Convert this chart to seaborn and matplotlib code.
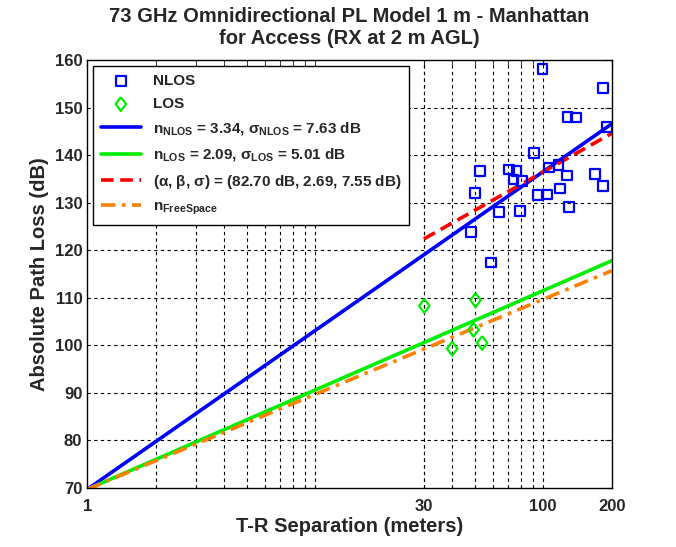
import numpy as np
import pandas as pd
import seaborn as sns
import matplotlib.pyplot as plt
from matplotlib.ticker import FixedLocator, NullFormatter

# measured points (distance in m, path loss in dB)
nlos_d = [99.5, 182.8, 128, 139, 190, 91, 52.7, 70.7, 76.4, 105.9, 116.7, 74.1, 80.6,
          127, 168.6, 182.8, 118.4, 50.3, 94.8, 103.8, 129.6, 63.9, 79.0, 48.2, 59.0]
nlos_pl = [158.2, 154.2, 148.1, 147.9, 146.0, 140.5, 136.7, 137.0, 136.7, 137.4, 138.0,
           134.9, 134.6, 135.7, 136.1, 133.5, 133.0, 132.1, 131.6, 131.7, 129.1, 128.0,
           128.3, 123.9, 117.4]
los_d = [30.1, 50.5, 49.5, 39.9, 54.0]
los_pl = [108.3, 109.5, 103.3, 99.3, 100.5]

# fitted model lines (end points on the log axis)
fit_d = [1, 200]
nlos_fit = [69.7, 146.6]
los_fit = [69.7, 117.8]
free_fit = [69.7, 115.7]
ab_d = [30, 200]
ab_fit = [122.4, 144.6]

yticks = [70, 80, 90, 100, 110, 120, 130, 140, 150, 160]
xticks = [1, 30, 100, 200]
xgrid = [2, 3, 4, 5, 6, 7, 8, 9, 10, 30, 40, 50, 60, 70, 80, 90, 100]

sns.set_style("white")
plt.rcParams['font.family'] = ['Liberation Sans', 'DejaVu Sans']
plt.rcParams['font.weight'] = 'bold'
plt.rcParams['mathtext.fontset'] = 'custom'
plt.rcParams['mathtext.rm'] = 'Liberation Sans:bold'
plt.rcParams['mathtext.it'] = 'Liberation Sans:bold'
plt.rcParams['mathtext.bf'] = 'Liberation Sans:bold'

fig = plt.figure(figsize=(6.76, 5.47), dpi=100)
ax = fig.add_axes([0.129, 0.108, 0.776, 0.782])

# wide diamond like the original marker
diamond = [(0, 1), (0.75, 0), (0, -1), (-0.75, 0), (0, 1)]

sns.scatterplot(x=nlos_d, y=nlos_pl, marker='s', s=48, facecolor='none',
                edgecolor='#0000FF', linewidth=1.6, label='NLOS', ax=ax, zorder=4)
sns.scatterplot(x=los_d, y=los_pl, marker=diamond, s=100, facecolor='none',
                edgecolor='#00EE00', linewidth=1.6, label='LOS', ax=ax, zorder=4)

sns.lineplot(x=fit_d, y=nlos_fit, color='#0000FF', lw=2.6,
             label=r'n$_{\rm NLOS}$ = 3.34, $\sigma_{\rm NLOS}$ = 7.63 dB', ax=ax)
sns.lineplot(x=fit_d, y=los_fit, color='#00EE00', lw=2.6,
             label=r'n$_{\rm LOS}$ = 2.09, $\sigma_{\rm LOS}$ = 5.01 dB', ax=ax)
sns.lineplot(x=ab_d, y=ab_fit, color='#FF0000', lw=2.6, linestyle=(0, (3.5, 1.8)),
             label=r'($\alpha$, $\beta$, $\sigma$) = (82.70 dB, 2.69, 7.55 dB)', ax=ax)
sns.lineplot(x=fit_d, y=free_fit, color='#FF8000', lw=2.6, linestyle=(0, (4, 1.8, 1, 1.8)),
             label=r'n$_{\rm FreeSpace}$', ax=ax)

ax.set_xscale('log')
ax.set_xlim(1, 200)
ax.set_ylim(70, 160)
ax.set_xticks(xticks)
ax.set_xticklabels([str(t) for t in xticks])
ax.xaxis.set_minor_locator(FixedLocator(xgrid))
ax.xaxis.set_minor_formatter(NullFormatter())
ax.set_yticks(yticks)

for v in xgrid + [30]:
    ax.axvline(v, color='black', ls=(0, (3, 3)), lw=0.8, zorder=1)
for v in yticks[1:-1]:
    ax.axhline(v, color='black', ls=(0, (3, 3)), lw=0.8, zorder=1)

ax.tick_params(axis='both', which='both', direction='in', labelsize=12,
               top=True, right=True, length=5)
ax.tick_params(axis='x', which='major', pad=8)
for sp in ax.spines.values():
    sp.set_color('black')
    sp.set_linewidth(1)

ax.set_xlabel('T-R Separation (meters)', fontsize=14.5, fontweight='bold', labelpad=2)
ax.set_ylabel('Absolute Path Loss (dB)', fontsize=14.5, fontweight='bold')
ax.set_title('73 GHz Omnidirectional PL Model 1 m - Manhattan\nfor Access (RX at 2 m AGL)',
             fontsize=14.5, fontweight='bold', pad=12, linespacing=1.15)

leg = ax.legend(loc='upper left', fontsize=11, frameon=True, fancybox=False,
                edgecolor='black', framealpha=1, handlelength=2.6, handletextpad=0.8,
                borderaxespad=0.4, labelspacing=0.6, borderpad=0.5)
leg.get_frame().set_linewidth(1)

fig.savefig('out.png', dpi=100)
